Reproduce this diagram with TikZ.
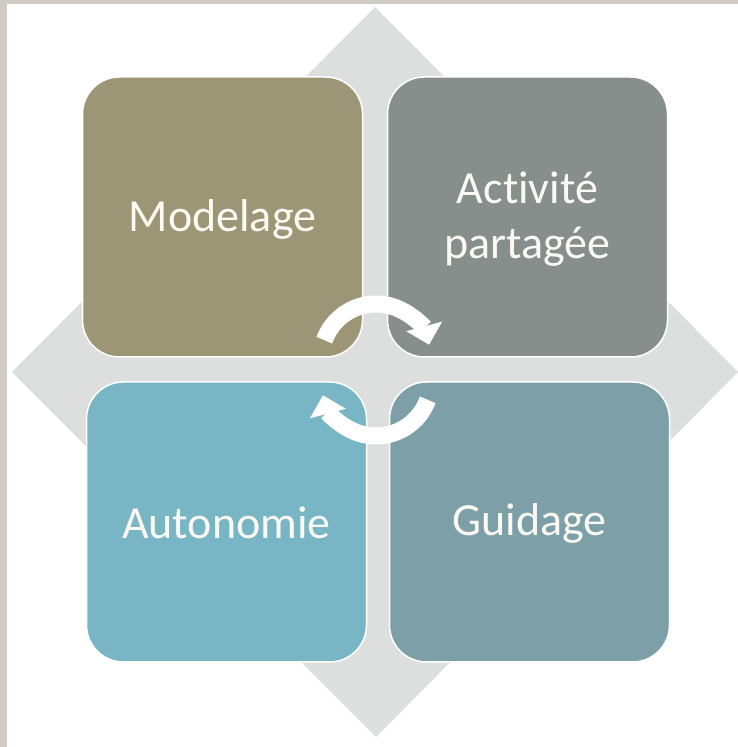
\documentclass[tikz,border=0pt]{standalone}
\usepackage{fontspec}
\setmainfont{Carlito}[Ligatures=NoCommon]
\usetikzlibrary{arrows.meta}
\definecolor{framegray}{RGB}{208,203,197}
\definecolor{diamondgray}{RGB}{221,223,223}
\definecolor{boxolive}{RGB}{156,150,119}
\definecolor{boxslate}{RGB}{135,143,141}
\definecolor{boxteal}{RGB}{120,181,197}
\definecolor{boxsteel}{RGB}{125,159,168}
\definecolor{txtcol}{RGB}{250,250,242}
\begin{document}
\begin{tikzpicture}[x=1pt,y=1pt,
  box/.style={draw=white, line width=1.5pt, rounded corners=37pt,
    minimum width=280pt, minimum height=280pt, inner sep=0pt,
    text=txtcol, font=\fontsize{46}{55}\selectfont, align=center},
  cyc/.style={white, line width=17pt, -{Triangle[length=19pt,width=36pt]}}]
\useasboundingbox (0,0) rectangle (738,747);
\fill[framegray] (0,0) rectangle (738,747);
\fill[white] (7,0) rectangle (738,743);
\fill[diamondgray] (12,375) -- (375,740) -- (738,375) -- (376,10) -- cycle;
\node[box, fill=boxolive] (tl) at (222.5,530) {};
\node[box, fill=boxslate] (tr) at (527.5,530) {};
\node[box, fill=boxteal] (bl) at (226.5,225) {};
\node[box, fill=boxsteel] (br) at (529.5,225) {};
\node[box, draw=none, fill=none] (tlt) at ([yshift=-2pt]tl.center) {Modelage};
\node[box, draw=none, fill=none] (trt) at ([yshift=-2pt]tr.center) {Activité\\partagée};
\node[box, draw=none, fill=none] (blt) at ([yshift=-1pt]bl.center) {Autonomie};
\node[box, draw=none, fill=none] (brt) at ([yshift=-1pt]br.center) {Guidage};
\coordinate (c1) at (376,388);
\coordinate (c2) at (376,366);
\draw[cyc] ([shift={(160:55)}]c1) arc[start angle=160, end angle=15, radius=55];
\draw[cyc] ([shift={(-20:55)}]c2) arc[start angle=-20, end angle=-165, radius=55];
\end{tikzpicture}
\end{document}
